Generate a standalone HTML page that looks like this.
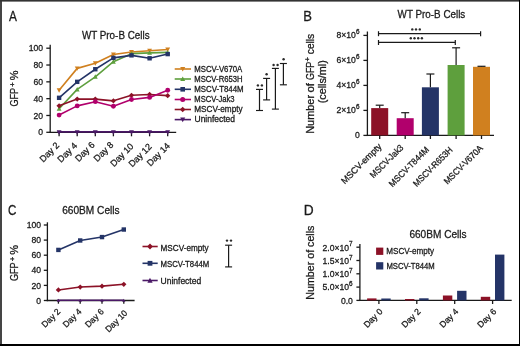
<!DOCTYPE html>
<html><head><meta charset="utf-8"><style>
html,body{margin:0;padding:0;background:#fff;}
#f{position:relative;width:520px;height:346px;overflow:hidden;background:#fff;}
svg{position:absolute;left:0;top:0;will-change:transform;}
text{font-family:"Liberation Sans", sans-serif;stroke:#1a1a1a;stroke-width:0.28px;}
</style></head><body><div id="f">
<svg width="520" height="346" viewBox="0 0 520 346">
<rect x="0" y="0" width="520" height="346" fill="#fff"/>
<text x="9.00" y="20.80" font-size="14" fill="#1a1a1a" textLength="7.88" lengthAdjust="spacingAndGlyphs">A</text>
<text x="81.90" y="38.50" font-size="10.6" fill="#1a1a1a" textLength="67.70" lengthAdjust="spacingAndGlyphs">WT Pro-B Cells</text>
<text transform="translate(18.30,106.55) rotate(-90)" font-size="10.5" fill="#1a1a1a" textLength="18.66" lengthAdjust="spacingAndGlyphs">GFP</text>
<text transform="translate(14.7,86.70) rotate(-90)" font-size="7.6" fill="#1a1a1a" style="stroke-width:0.35px">+</text>
<text transform="translate(18.30,80.24) rotate(-90)" font-size="10.5" fill="#1a1a1a" textLength="9.77" lengthAdjust="spacingAndGlyphs">%</text>
<line x1="50.20" y1="44.80" x2="50.20" y2="132.95" stroke="#1a1a1a" stroke-width="1.3"/>
<line x1="46.30" y1="132.30" x2="50.20" y2="132.30" stroke="#1a1a1a" stroke-width="1.3"/>
<text x="43.0" y="135.4" font-size="8.6" text-anchor="end" fill="#1a1a1a" >0</text>
<line x1="46.30" y1="115.48" x2="50.20" y2="115.48" stroke="#1a1a1a" stroke-width="1.3"/>
<text x="43.0" y="118.58000000000001" font-size="8.6" text-anchor="end" fill="#1a1a1a" >20</text>
<line x1="46.30" y1="98.66" x2="50.20" y2="98.66" stroke="#1a1a1a" stroke-width="1.3"/>
<text x="43.0" y="101.76" font-size="8.6" text-anchor="end" fill="#1a1a1a" >40</text>
<line x1="46.30" y1="81.84" x2="50.20" y2="81.84" stroke="#1a1a1a" stroke-width="1.3"/>
<text x="43.0" y="84.94" font-size="8.6" text-anchor="end" fill="#1a1a1a" >60</text>
<line x1="46.30" y1="65.02" x2="50.20" y2="65.02" stroke="#1a1a1a" stroke-width="1.3"/>
<text x="43.0" y="68.12" font-size="8.6" text-anchor="end" fill="#1a1a1a" >80</text>
<line x1="46.30" y1="48.20" x2="50.20" y2="48.20" stroke="#1a1a1a" stroke-width="1.3"/>
<text x="43.0" y="51.30000000000002" font-size="8.6" text-anchor="end" fill="#1a1a1a" >100</text>
<line x1="49.55" y1="132.30" x2="176.20" y2="132.30" stroke="#1a1a1a" stroke-width="1.3"/>
<line x1="59.10" y1="132.30" x2="59.10" y2="136.30" stroke="#1a1a1a" stroke-width="1.3"/>
<line x1="77.20" y1="132.30" x2="77.20" y2="136.30" stroke="#1a1a1a" stroke-width="1.3"/>
<line x1="95.30" y1="132.30" x2="95.30" y2="136.30" stroke="#1a1a1a" stroke-width="1.3"/>
<line x1="113.40" y1="132.30" x2="113.40" y2="136.30" stroke="#1a1a1a" stroke-width="1.3"/>
<line x1="131.50" y1="132.30" x2="131.50" y2="136.30" stroke="#1a1a1a" stroke-width="1.3"/>
<line x1="149.60" y1="132.30" x2="149.60" y2="136.30" stroke="#1a1a1a" stroke-width="1.3"/>
<line x1="167.70" y1="132.30" x2="167.70" y2="136.30" stroke="#1a1a1a" stroke-width="1.3"/>
<text transform="translate(59.85,146.00) rotate(-45)" font-size="9" text-anchor="end" fill="#1a1a1a">Day 2</text>
<text transform="translate(77.70,146.30) rotate(-45)" font-size="9" text-anchor="end" fill="#1a1a1a">Day 4</text>
<text transform="translate(95.30,145.50) rotate(-45)" font-size="9" text-anchor="end" fill="#1a1a1a">Day 6</text>
<text transform="translate(114.00,145.50) rotate(-45)" font-size="9" text-anchor="end" fill="#1a1a1a">Day 8</text>
<text transform="translate(134.10,147.00) rotate(-45)" font-size="9" text-anchor="end" fill="#1a1a1a">Day 10</text>
<text transform="translate(152.40,147.30) rotate(-45)" font-size="9" text-anchor="end" fill="#1a1a1a">Day 12</text>
<text transform="translate(170.55,146.50) rotate(-45)" font-size="9" text-anchor="end" fill="#1a1a1a">Day 14</text>
<polyline points="59.10,90.25 77.20,68.38 95.30,63.34 113.40,54.51 131.50,51.98 149.60,50.72 167.70,49.46" fill="none" stroke="#d0801f" stroke-width="1.6" stroke-linejoin="round"/>
<path d="M56.68,88.27L61.52,88.27L59.10,92.67Z" fill="#d0801f"/>
<path d="M74.78,66.40L79.62,66.40L77.20,70.80Z" fill="#d0801f"/>
<path d="M92.88,61.36L97.72,61.36L95.30,65.76Z" fill="#d0801f"/>
<path d="M110.98,52.53L115.82,52.53L113.40,56.93Z" fill="#d0801f"/>
<path d="M129.08,50.00L133.92,50.00L131.50,54.40Z" fill="#d0801f"/>
<path d="M147.18,48.74L152.02,48.74L149.60,53.14Z" fill="#d0801f"/>
<path d="M165.28,47.48L170.12,47.48L167.70,51.88Z" fill="#d0801f"/>
<polyline points="59.10,108.75 77.20,89.41 95.30,76.79 113.40,61.66 131.50,53.67 149.60,52.83 167.70,52.41" fill="none" stroke="#5e9f3d" stroke-width="1.6" stroke-linejoin="round"/>
<path d="M56.68,110.73L61.52,110.73L59.10,106.33Z" fill="#5e9f3d"/>
<path d="M74.78,91.39L79.62,91.39L77.20,86.99Z" fill="#5e9f3d"/>
<path d="M92.88,78.77L97.72,78.77L95.30,74.37Z" fill="#5e9f3d"/>
<path d="M110.98,63.64L115.82,63.64L113.40,59.24Z" fill="#5e9f3d"/>
<path d="M129.08,55.65L133.92,55.65L131.50,51.25Z" fill="#5e9f3d"/>
<path d="M147.18,54.81L152.02,54.81L149.60,50.41Z" fill="#5e9f3d"/>
<path d="M165.28,54.39L170.12,54.39L167.70,49.99Z" fill="#5e9f3d"/>
<polyline points="59.10,97.82 77.20,81.84 95.30,69.23 113.40,57.87 131.50,55.35 149.60,58.29 167.70,54.09" fill="none" stroke="#243467" stroke-width="1.6" stroke-linejoin="round"/>
<rect x="56.90" y="95.62" width="4.4" height="4.4" fill="#243467"/>
<rect x="75.00" y="79.64" width="4.4" height="4.4" fill="#243467"/>
<rect x="93.10" y="67.03" width="4.4" height="4.4" fill="#243467"/>
<rect x="111.20" y="55.67" width="4.4" height="4.4" fill="#243467"/>
<rect x="129.30" y="53.15" width="4.4" height="4.4" fill="#243467"/>
<rect x="147.40" y="56.09" width="4.4" height="4.4" fill="#243467"/>
<rect x="165.50" y="51.89" width="4.4" height="4.4" fill="#243467"/>
<polyline points="59.10,105.81 77.20,99.08 95.30,99.08 113.40,100.85 131.50,95.30 149.60,94.46 167.70,95.63" fill="none" stroke="#8c1227" stroke-width="1.6" stroke-linejoin="round"/>
<path d="M56.46,105.81L59.10,103.17L61.74,105.81L59.10,108.45Z" fill="#8c1227"/>
<path d="M74.56,99.08L77.20,96.44L79.84,99.08L77.20,101.72Z" fill="#8c1227"/>
<path d="M92.66,99.08L95.30,96.44L97.94,99.08L95.30,101.72Z" fill="#8c1227"/>
<path d="M110.76,100.85L113.40,98.21L116.04,100.85L113.40,103.49Z" fill="#8c1227"/>
<path d="M128.86,95.30L131.50,92.66L134.14,95.30L131.50,97.94Z" fill="#8c1227"/>
<path d="M146.96,94.46L149.60,91.82L152.24,94.46L149.60,97.10Z" fill="#8c1227"/>
<path d="M165.06,95.63L167.70,92.99L170.34,95.63L167.70,98.27Z" fill="#8c1227"/>
<polyline points="59.10,115.06 77.20,105.89 95.30,101.69 113.40,106.23 131.50,99.50 149.60,97.40 167.70,90.25" fill="none" stroke="#b1006c" stroke-width="1.6" stroke-linejoin="round"/>
<circle cx="59.10" cy="115.06" r="2.42" fill="#b1006c"/>
<circle cx="77.20" cy="105.89" r="2.42" fill="#b1006c"/>
<circle cx="95.30" cy="101.69" r="2.42" fill="#b1006c"/>
<circle cx="113.40" cy="106.23" r="2.42" fill="#b1006c"/>
<circle cx="131.50" cy="99.50" r="2.42" fill="#b1006c"/>
<circle cx="149.60" cy="97.40" r="2.42" fill="#b1006c"/>
<circle cx="167.70" cy="90.25" r="2.42" fill="#b1006c"/>
<polyline points="57.60,131.90 167.70,131.90" fill="none" stroke="#4a1866" stroke-width="1.6" stroke-linejoin="round"/>
<path d="M56.68,130.32L61.52,130.32L59.10,134.72Z" fill="#4a1866"/>
<path d="M74.78,130.32L79.62,130.32L77.20,134.72Z" fill="#4a1866"/>
<path d="M92.88,130.32L97.72,130.32L95.30,134.72Z" fill="#4a1866"/>
<path d="M110.98,130.32L115.82,130.32L113.40,134.72Z" fill="#4a1866"/>
<path d="M129.08,130.32L133.92,130.32L131.50,134.72Z" fill="#4a1866"/>
<path d="M147.18,130.32L152.02,130.32L149.60,134.72Z" fill="#4a1866"/>
<path d="M165.28,130.32L170.12,130.32L167.70,134.72Z" fill="#4a1866"/>
<line x1="174.70" y1="69.00" x2="191.00" y2="69.00" stroke="#d0801f" stroke-width="1.6"/>
<path d="M180.17,66.93L185.23,66.93L182.70,71.53Z" fill="#d0801f"/>
<text x="194.28" y="71.60" font-size="8.3" fill="#1a1a1a" textLength="48.02" lengthAdjust="spacingAndGlyphs">MSCV-V670A</text>
<line x1="174.70" y1="79.00" x2="191.00" y2="79.00" stroke="#5e9f3d" stroke-width="1.6"/>
<path d="M180.17,81.07L185.23,81.07L182.70,76.47Z" fill="#5e9f3d"/>
<text x="194.28" y="81.60" font-size="8.3" fill="#1a1a1a" textLength="48.33" lengthAdjust="spacingAndGlyphs">MSCV-R653H</text>
<line x1="174.70" y1="89.30" x2="191.00" y2="89.30" stroke="#243467" stroke-width="1.6"/>
<rect x="180.40" y="87.00" width="4.6" height="4.6" fill="#243467"/>
<text x="194.27" y="91.90" font-size="8.3" fill="#1a1a1a" textLength="49.35" lengthAdjust="spacingAndGlyphs">MSCV-T844M</text>
<line x1="174.70" y1="99.50" x2="191.00" y2="99.50" stroke="#b1006c" stroke-width="1.6"/>
<circle cx="182.70" cy="99.50" r="2.53" fill="#b1006c"/>
<text x="194.29" y="102.10" font-size="8.3" fill="#1a1a1a" textLength="40.29" lengthAdjust="spacingAndGlyphs">MSCV-Jak3</text>
<line x1="174.70" y1="109.50" x2="191.00" y2="109.50" stroke="#8c1227" stroke-width="1.6"/>
<path d="M179.94,109.50L182.70,106.74L185.46,109.50L182.70,112.26Z" fill="#8c1227"/>
<text x="194.24" y="112.10" font-size="8.3" fill="#1a1a1a" textLength="48.36" lengthAdjust="spacingAndGlyphs">MSCV-empty</text>
<line x1="174.70" y1="119.60" x2="191.00" y2="119.60" stroke="#4a1866" stroke-width="1.6"/>
<path d="M180.17,117.53L185.23,117.53L182.70,122.13Z" fill="#4a1866"/>
<text x="194.52" y="122.20" font-size="8.3" fill="#1a1a1a" textLength="40.49" lengthAdjust="spacingAndGlyphs">Uninfected</text>
<line x1="259.50" y1="89.40" x2="259.50" y2="110.50" stroke="#1a1a1a" stroke-width="1.2"/>
<line x1="256.00" y1="89.40" x2="263.00" y2="89.40" stroke="#1a1a1a" stroke-width="1.15"/>
<line x1="256.00" y1="110.50" x2="263.00" y2="110.50" stroke="#1a1a1a" stroke-width="1.15"/>
<circle cx="257.90" cy="85.40" r="1.2" fill="#2a2a2a"/>
<circle cx="261.90" cy="85.40" r="1.2" fill="#2a2a2a"/>
<line x1="266.60" y1="78.40" x2="266.60" y2="99.90" stroke="#1a1a1a" stroke-width="1.2"/>
<line x1="263.10" y1="78.40" x2="270.10" y2="78.40" stroke="#1a1a1a" stroke-width="1.15"/>
<line x1="263.10" y1="99.90" x2="270.10" y2="99.90" stroke="#1a1a1a" stroke-width="1.15"/>
<circle cx="266.60" cy="74.30" r="1.2" fill="#2a2a2a"/>
<line x1="275.40" y1="68.40" x2="275.40" y2="109.10" stroke="#1a1a1a" stroke-width="1.2"/>
<line x1="271.90" y1="68.40" x2="278.90" y2="68.40" stroke="#1a1a1a" stroke-width="1.15"/>
<line x1="271.90" y1="109.10" x2="278.90" y2="109.10" stroke="#1a1a1a" stroke-width="1.15"/>
<circle cx="273.60" cy="65.00" r="1.2" fill="#2a2a2a"/>
<circle cx="277.60" cy="65.00" r="1.2" fill="#2a2a2a"/>
<line x1="283.40" y1="63.50" x2="283.40" y2="84.80" stroke="#1a1a1a" stroke-width="1.2"/>
<line x1="279.90" y1="63.50" x2="286.90" y2="63.50" stroke="#1a1a1a" stroke-width="1.15"/>
<line x1="279.90" y1="84.80" x2="286.90" y2="84.80" stroke="#1a1a1a" stroke-width="1.15"/>
<circle cx="283.60" cy="59.20" r="1.2" fill="#2a2a2a"/>
<text x="303.26" y="20.80" font-size="14" fill="#1a1a1a" textLength="8.68" lengthAdjust="spacingAndGlyphs">B</text>
<text x="397.60" y="17.50" font-size="10.6" fill="#1a1a1a" textLength="67.70" lengthAdjust="spacingAndGlyphs">WT Pro-B Cells</text>
<text transform="translate(313.90,133.77) rotate(-90)" font-size="10.5" fill="#1a1a1a" textLength="38.86" lengthAdjust="spacingAndGlyphs">Number</text>
<text transform="translate(313.90,92.46) rotate(-90)" font-size="10.5" fill="#1a1a1a" textLength="9.50" lengthAdjust="spacingAndGlyphs">of</text>
<text transform="translate(313.90,80.05) rotate(-90)" font-size="10.5" fill="#1a1a1a" textLength="18.34" lengthAdjust="spacingAndGlyphs">GFP</text>
<text transform="translate(310.2,61.4) rotate(-90)" font-size="7.6" fill="#1a1a1a" style="stroke-width:0.35px">+</text>
<text transform="translate(313.90,54.21) rotate(-90)" font-size="10.5" fill="#1a1a1a" textLength="20.42" lengthAdjust="spacingAndGlyphs">cells</text>
<text transform="translate(326.40,103.35) rotate(-90)" font-size="11" fill="#1a1a1a" textLength="43.19" lengthAdjust="spacingAndGlyphs">(cells/ml)</text>
<line x1="367.40" y1="31.50" x2="367.40" y2="136.05" stroke="#1a1a1a" stroke-width="1.3"/>
<line x1="363.40" y1="135.40" x2="367.40" y2="135.40" stroke="#1a1a1a" stroke-width="1.3"/>
<text x="359.8" y="138.0" font-size="8.6" text-anchor="end" fill="#1a1a1a" >0</text>
<line x1="363.40" y1="110.40" x2="367.40" y2="110.40" stroke="#1a1a1a" stroke-width="1.3"/>
<text x="355.8" y="112.9" font-size="8.6" text-anchor="end" fill="#1a1a1a">2×10</text>
<text x="355.9" y="108.80000000000001" font-size="6.4" fill="#1a1a1a">6</text>
<line x1="363.40" y1="85.40" x2="367.40" y2="85.40" stroke="#1a1a1a" stroke-width="1.3"/>
<text x="355.8" y="87.9" font-size="8.6" text-anchor="end" fill="#1a1a1a">4×10</text>
<text x="355.9" y="83.80000000000001" font-size="6.4" fill="#1a1a1a">6</text>
<line x1="363.40" y1="60.40" x2="367.40" y2="60.40" stroke="#1a1a1a" stroke-width="1.3"/>
<text x="355.8" y="62.900000000000006" font-size="8.6" text-anchor="end" fill="#1a1a1a">6×10</text>
<text x="355.9" y="58.800000000000004" font-size="6.4" fill="#1a1a1a">6</text>
<line x1="363.40" y1="35.40" x2="367.40" y2="35.40" stroke="#1a1a1a" stroke-width="1.3"/>
<text x="355.8" y="37.900000000000006" font-size="8.6" text-anchor="end" fill="#1a1a1a">8×10</text>
<text x="355.9" y="33.800000000000004" font-size="6.4" fill="#1a1a1a">6</text>
<line x1="366.75" y1="135.40" x2="494.00" y2="135.40" stroke="#1a1a1a" stroke-width="1.3"/>
<rect x="371.20" y="108.1" width="17" height="27.30" fill="#8c1227"/>
<line x1="379.70" y1="105.20" x2="379.70" y2="108.10" stroke="#1a1a1a" stroke-width="1.2"/>
<line x1="375.70" y1="105.20" x2="383.70" y2="105.20" stroke="#1a1a1a" stroke-width="1.2"/>
<line x1="379.70" y1="135.40" x2="379.70" y2="139.00" stroke="#1a1a1a" stroke-width="1.3"/>
<rect x="396.70" y="118.2" width="17" height="17.20" fill="#b1006c"/>
<line x1="405.20" y1="112.70" x2="405.20" y2="118.20" stroke="#1a1a1a" stroke-width="1.2"/>
<line x1="401.20" y1="112.70" x2="409.20" y2="112.70" stroke="#1a1a1a" stroke-width="1.2"/>
<line x1="405.20" y1="135.40" x2="405.20" y2="139.00" stroke="#1a1a1a" stroke-width="1.3"/>
<rect x="421.90" y="87.3" width="17" height="48.10" fill="#243467"/>
<line x1="430.40" y1="74.00" x2="430.40" y2="87.30" stroke="#1a1a1a" stroke-width="1.2"/>
<line x1="426.40" y1="74.00" x2="434.40" y2="74.00" stroke="#1a1a1a" stroke-width="1.2"/>
<line x1="430.40" y1="135.40" x2="430.40" y2="139.00" stroke="#1a1a1a" stroke-width="1.3"/>
<rect x="447.60" y="65.0" width="17" height="70.40" fill="#5e9f3d"/>
<line x1="456.10" y1="47.80" x2="456.10" y2="65.00" stroke="#1a1a1a" stroke-width="1.2"/>
<line x1="452.10" y1="47.80" x2="460.10" y2="47.80" stroke="#1a1a1a" stroke-width="1.2"/>
<line x1="456.10" y1="135.40" x2="456.10" y2="139.00" stroke="#1a1a1a" stroke-width="1.3"/>
<rect x="473.00" y="66.8" width="17" height="68.60" fill="#d0801f"/>
<line x1="481.50" y1="66.30" x2="481.50" y2="66.80" stroke="#1a1a1a" stroke-width="1.2"/>
<line x1="477.50" y1="66.30" x2="485.50" y2="66.30" stroke="#1a1a1a" stroke-width="1.2"/>
<line x1="481.50" y1="135.40" x2="481.50" y2="139.00" stroke="#1a1a1a" stroke-width="1.3"/>
<text transform="translate(382.15,147.00) rotate(-45)" font-size="9" text-anchor="end" fill="#1a1a1a">MSCV-empty</text>
<text transform="translate(404.00,148.20) rotate(-45)" font-size="9" text-anchor="end" fill="#1a1a1a" textLength="43.0" lengthAdjust="spacingAndGlyphs">MSCV-Jak3</text>
<text transform="translate(429.60,150.40) rotate(-45)" font-size="9" text-anchor="end" fill="#1a1a1a" textLength="52.3" lengthAdjust="spacingAndGlyphs">MSCV-T844M</text>
<text transform="translate(453.20,150.60) rotate(-45)" font-size="9" text-anchor="end" fill="#1a1a1a" textLength="51.7" lengthAdjust="spacingAndGlyphs">MSCV-R653H</text>
<text transform="translate(483.50,148.80) rotate(-45)" font-size="9" text-anchor="end" fill="#1a1a1a" textLength="51.0" lengthAdjust="spacingAndGlyphs">MSCV-V670A</text>
<line x1="378.50" y1="33.70" x2="480.60" y2="33.70" stroke="#1a1a1a" stroke-width="1.3"/>
<line x1="378.50" y1="31.20" x2="378.50" y2="36.20" stroke="#1a1a1a" stroke-width="1.2"/>
<line x1="480.60" y1="31.20" x2="480.60" y2="36.20" stroke="#1a1a1a" stroke-width="1.2"/>
<circle cx="412.30" cy="29.40" r="1.2" fill="#2a2a2a"/>
<circle cx="416.00" cy="29.40" r="1.2" fill="#2a2a2a"/>
<circle cx="419.80" cy="29.40" r="1.2" fill="#2a2a2a"/>
<line x1="378.50" y1="42.30" x2="455.30" y2="42.30" stroke="#1a1a1a" stroke-width="1.3"/>
<line x1="378.50" y1="40.00" x2="378.50" y2="45.00" stroke="#1a1a1a" stroke-width="1.2"/>
<line x1="455.30" y1="40.00" x2="455.30" y2="45.00" stroke="#1a1a1a" stroke-width="1.2"/>
<circle cx="410.80" cy="38.30" r="1.2" fill="#2a2a2a"/>
<circle cx="414.50" cy="38.30" r="1.2" fill="#2a2a2a"/>
<circle cx="418.20" cy="38.30" r="1.2" fill="#2a2a2a"/>
<circle cx="421.90" cy="38.30" r="1.2" fill="#2a2a2a"/>
<text x="8.12" y="214.70" font-size="14" fill="#1a1a1a" textLength="8.37" lengthAdjust="spacingAndGlyphs">C</text>
<text x="62.19" y="213.60" font-size="10.6" fill="#1a1a1a" textLength="57.40" lengthAdjust="spacingAndGlyphs">660BM Cells</text>
<text transform="translate(18.30,281.05) rotate(-90)" font-size="10.5" fill="#1a1a1a" textLength="18.66" lengthAdjust="spacingAndGlyphs">GFP</text>
<text transform="translate(14.7,261.20) rotate(-90)" font-size="7.6" fill="#1a1a1a" style="stroke-width:0.35px">+</text>
<text transform="translate(18.30,254.74) rotate(-90)" font-size="10.5" fill="#1a1a1a" textLength="9.77" lengthAdjust="spacingAndGlyphs">%</text>
<line x1="47.40" y1="222.30" x2="47.40" y2="301.15" stroke="#1a1a1a" stroke-width="1.3"/>
<line x1="43.80" y1="300.50" x2="47.40" y2="300.50" stroke="#1a1a1a" stroke-width="1.3"/>
<text x="41.0" y="303.6" font-size="8.6" text-anchor="end" fill="#1a1a1a" >0</text>
<line x1="43.80" y1="285.40" x2="47.40" y2="285.40" stroke="#1a1a1a" stroke-width="1.3"/>
<text x="41.0" y="288.5" font-size="8.6" text-anchor="end" fill="#1a1a1a" >20</text>
<line x1="43.80" y1="270.30" x2="47.40" y2="270.30" stroke="#1a1a1a" stroke-width="1.3"/>
<text x="41.0" y="273.40000000000003" font-size="8.6" text-anchor="end" fill="#1a1a1a" >40</text>
<line x1="43.80" y1="255.20" x2="47.40" y2="255.20" stroke="#1a1a1a" stroke-width="1.3"/>
<text x="41.0" y="258.3" font-size="8.6" text-anchor="end" fill="#1a1a1a" >60</text>
<line x1="43.80" y1="240.10" x2="47.40" y2="240.10" stroke="#1a1a1a" stroke-width="1.3"/>
<text x="41.0" y="243.2" font-size="8.6" text-anchor="end" fill="#1a1a1a" >80</text>
<line x1="43.80" y1="225.00" x2="47.40" y2="225.00" stroke="#1a1a1a" stroke-width="1.3"/>
<text x="41.0" y="228.1" font-size="8.6" text-anchor="end" fill="#1a1a1a" >100</text>
<line x1="46.75" y1="300.50" x2="134.60" y2="300.50" stroke="#1a1a1a" stroke-width="1.3"/>
<line x1="58.40" y1="300.50" x2="58.40" y2="303.70" stroke="#1a1a1a" stroke-width="1.3"/>
<line x1="80.20" y1="300.50" x2="80.20" y2="303.70" stroke="#1a1a1a" stroke-width="1.3"/>
<line x1="102.00" y1="300.50" x2="102.00" y2="303.70" stroke="#1a1a1a" stroke-width="1.3"/>
<line x1="123.80" y1="300.50" x2="123.80" y2="303.70" stroke="#1a1a1a" stroke-width="1.3"/>
<text transform="translate(61.00,312.20) rotate(-45)" font-size="8.6" text-anchor="end" fill="#1a1a1a">Day 2</text>
<text transform="translate(82.20,312.20) rotate(-45)" font-size="8.6" text-anchor="end" fill="#1a1a1a">Day 4</text>
<text transform="translate(104.30,312.20) rotate(-45)" font-size="8.6" text-anchor="end" fill="#1a1a1a">Day 6</text>
<text transform="translate(127.90,313.60) rotate(-45)" font-size="8.6" text-anchor="end" fill="#1a1a1a">Day 10</text>
<polyline points="58.40,249.91 80.20,240.48 102.00,237.08 123.80,229.53" fill="none" stroke="#243467" stroke-width="1.6" stroke-linejoin="round"/>
<rect x="56.20" y="247.72" width="4.4" height="4.4" fill="#243467"/>
<rect x="78.00" y="238.28" width="4.4" height="4.4" fill="#243467"/>
<rect x="99.80" y="234.88" width="4.4" height="4.4" fill="#243467"/>
<rect x="121.60" y="227.33" width="4.4" height="4.4" fill="#243467"/>
<polyline points="58.40,289.93 80.20,287.06 102.00,286.15 123.80,284.27" fill="none" stroke="#8c1227" stroke-width="1.6" stroke-linejoin="round"/>
<path d="M55.76,289.93L58.40,287.29L61.04,289.93L58.40,292.57Z" fill="#8c1227"/>
<path d="M77.56,287.06L80.20,284.42L82.84,287.06L80.20,289.70Z" fill="#8c1227"/>
<path d="M99.36,286.15L102.00,283.51L104.64,286.15L102.00,288.79Z" fill="#8c1227"/>
<path d="M121.16,284.27L123.80,281.63L126.44,284.27L123.80,286.91Z" fill="#8c1227"/>
<polyline points="57.20,300.20 123.80,300.20" fill="none" stroke="#4a1866" stroke-width="1.6" stroke-linejoin="round"/>
<path d="M56.75,301.85L60.05,301.85L58.40,298.85Z" fill="#4a1866"/>
<path d="M78.55,301.85L81.85,301.85L80.20,298.85Z" fill="#4a1866"/>
<path d="M100.35,301.85L103.65,301.85L102.00,298.85Z" fill="#4a1866"/>
<path d="M122.15,301.85L125.45,301.85L123.80,298.85Z" fill="#4a1866"/>
<line x1="142.50" y1="246.50" x2="157.70" y2="246.50" stroke="#8c1227" stroke-width="1.6"/>
<path d="M147.12,246.50L150.00,243.62L152.88,246.50L150.00,249.38Z" fill="#8c1227"/>
<text x="160.55" y="250.80" font-size="8.7" fill="#1a1a1a" textLength="48.05" lengthAdjust="spacingAndGlyphs">MSCV-empty</text>
<line x1="142.50" y1="263.30" x2="157.70" y2="263.30" stroke="#243467" stroke-width="1.6"/>
<rect x="147.60" y="260.90" width="4.8" height="4.8" fill="#243467"/>
<text x="160.58" y="267.20" font-size="8.7" fill="#1a1a1a" textLength="48.63" lengthAdjust="spacingAndGlyphs">MSCV-T844M</text>
<line x1="142.50" y1="280.50" x2="157.70" y2="280.50" stroke="#4a1866" stroke-width="1.6"/>
<path d="M147.36,282.66L152.64,282.66L150.00,277.86Z" fill="#4a1866"/>
<text x="160.52" y="284.00" font-size="8.7" fill="#1a1a1a" textLength="40.70" lengthAdjust="spacingAndGlyphs">Uninfected</text>
<line x1="228.60" y1="245.20" x2="228.60" y2="266.90" stroke="#1a1a1a" stroke-width="1.2"/>
<line x1="225.10" y1="245.20" x2="232.10" y2="245.20" stroke="#1a1a1a" stroke-width="1.15"/>
<line x1="225.10" y1="266.90" x2="232.10" y2="266.90" stroke="#1a1a1a" stroke-width="1.15"/>
<circle cx="227.00" cy="240.60" r="1.2" fill="#2a2a2a"/>
<circle cx="231.00" cy="240.60" r="1.2" fill="#2a2a2a"/>
<text x="303.70" y="214.70" font-size="14" fill="#1a1a1a" textLength="9.91" lengthAdjust="spacingAndGlyphs">D</text>
<text x="409.40" y="237.80" font-size="10.6" fill="#1a1a1a" textLength="57.20" lengthAdjust="spacingAndGlyphs">660BM Cells</text>
<text transform="translate(314.00,299.65) rotate(-90)" font-size="11.5" fill="#1a1a1a" textLength="74.05" lengthAdjust="spacingAndGlyphs">Number of cells</text>
<line x1="359.90" y1="244.10" x2="359.90" y2="301.05" stroke="#1a1a1a" stroke-width="1.3"/>
<line x1="356.40" y1="300.40" x2="359.90" y2="300.40" stroke="#1a1a1a" stroke-width="1.3"/>
<text x="352.9" y="303.7" font-size="8.6" text-anchor="end" fill="#1a1a1a" >0.0</text>
<line x1="356.40" y1="287.10" x2="359.90" y2="287.10" stroke="#1a1a1a" stroke-width="1.3"/>
<text x="349.1" y="290.4" font-size="8.6" text-anchor="end" fill="#1a1a1a" >5.0×10</text>
<text x="348.9" y="286.09999999999997" font-size="6.4" fill="#1a1a1a">6</text>
<line x1="356.40" y1="273.80" x2="359.90" y2="273.80" stroke="#1a1a1a" stroke-width="1.3"/>
<text x="349.1" y="277.09999999999997" font-size="8.6" text-anchor="end" fill="#1a1a1a" >1.0×10</text>
<text x="348.9" y="272.79999999999995" font-size="6.4" fill="#1a1a1a">7</text>
<line x1="356.40" y1="260.50" x2="359.90" y2="260.50" stroke="#1a1a1a" stroke-width="1.3"/>
<text x="349.1" y="263.8" font-size="8.6" text-anchor="end" fill="#1a1a1a" >1.5×10</text>
<text x="348.9" y="259.5" font-size="6.4" fill="#1a1a1a">7</text>
<line x1="356.40" y1="247.20" x2="359.90" y2="247.20" stroke="#1a1a1a" stroke-width="1.3"/>
<text x="349.1" y="250.5" font-size="8.6" text-anchor="end" fill="#1a1a1a" >2.0×10</text>
<text x="348.9" y="246.2" font-size="6.4" fill="#1a1a1a">7</text>
<line x1="359.25" y1="300.40" x2="511.70" y2="300.40" stroke="#1a1a1a" stroke-width="1.3"/>
<rect x="367.10" y="298.4" width="9.4" height="2.00" fill="#8c1227"/>
<rect x="381.30" y="298.5" width="9.4" height="1.90" fill="#243467"/>
<line x1="378.90" y1="300.40" x2="378.90" y2="304.00" stroke="#1a1a1a" stroke-width="1.3"/>
<rect x="405.00" y="299.0" width="9.4" height="1.40" fill="#8c1227"/>
<rect x="419.20" y="298.3" width="9.4" height="2.10" fill="#243467"/>
<line x1="416.80" y1="300.40" x2="416.80" y2="304.00" stroke="#1a1a1a" stroke-width="1.3"/>
<rect x="442.90" y="295.5" width="9.4" height="4.90" fill="#8c1227"/>
<rect x="457.10" y="290.8" width="9.4" height="9.60" fill="#243467"/>
<line x1="454.70" y1="300.40" x2="454.70" y2="304.00" stroke="#1a1a1a" stroke-width="1.3"/>
<rect x="480.80" y="296.8" width="9.4" height="3.60" fill="#8c1227"/>
<rect x="495.00" y="254.6" width="9.4" height="45.80" fill="#243467"/>
<line x1="492.60" y1="300.40" x2="492.60" y2="304.00" stroke="#1a1a1a" stroke-width="1.3"/>
<text transform="translate(383.20,312.20) rotate(-45)" font-size="8.7" text-anchor="end" fill="#1a1a1a">Day 0</text>
<text transform="translate(421.10,312.20) rotate(-45)" font-size="8.7" text-anchor="end" fill="#1a1a1a">Day 2</text>
<text transform="translate(459.00,312.20) rotate(-45)" font-size="8.7" text-anchor="end" fill="#1a1a1a">Day 4</text>
<text transform="translate(496.90,312.20) rotate(-45)" font-size="8.7" text-anchor="end" fill="#1a1a1a">Day 6</text>
<rect x="376.1" y="247.6" width="7.2" height="7.3" fill="#8c1227"/>
<rect x="376.1" y="262.2" width="7.2" height="7.3" fill="#243467"/>
<text x="386.35" y="253.90" font-size="8.7" fill="#1a1a1a" textLength="47.75" lengthAdjust="spacingAndGlyphs">MSCV-empty</text>
<text x="386.38" y="268.50" font-size="8.7" fill="#1a1a1a" textLength="48.33" lengthAdjust="spacingAndGlyphs">MSCV-T844M</text>
<rect x="0" y="0" width="2" height="346" fill="#454545"/>
<rect x="0" y="0" width="520" height="1.6" fill="#333"/>
<rect x="519" y="0" width="1" height="346" fill="#000"/>
<rect x="0" y="344" width="520" height="2" fill="#000"/>
</svg></div></body></html>
